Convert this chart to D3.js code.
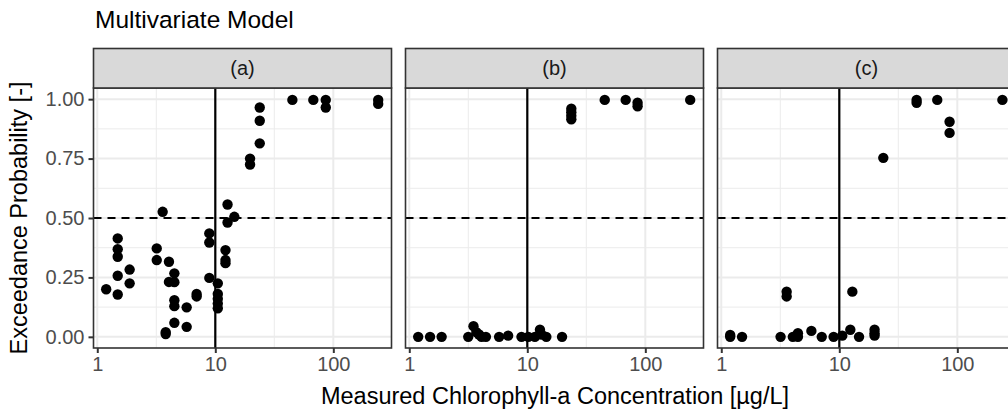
<!DOCTYPE html>
<html><head><meta charset="utf-8">
<script src="https://cdn.jsdelivr.net/npm/d3@7"></script>
<style>body{margin:0;background:#fff}svg{display:block}</style>
</head><body>
<svg id="c" width="1008" height="413"></svg>
<script>
const panels = ["(a)", "(b)", "(c)"];
const xTicks = [1, 10, 100];
const xTickLabels = ["1", "10", "100"];
const yTicks = [0, 0.25, 0.5, 0.75, 1];
const yTickLabels = ["0.00", "0.25", "0.50", "0.75", "1.00"];
const threshold = 10;
const probLine = 0.5;

const xA = [1.19, 1.49,1.49,1.49,1.49,1.49, 1.88,1.88, 3.19,3.19, 3.58, 3.8,3.8, 4.05,4.05, 4.5,4.5,4.5,4.5,4.5, 5.72,5.72, 6.95,6.95, 8.9,8.9,8.9, 10.5,10.5,10.5,10.5,10.5, 12.2,12.2,12.2, 12.7,12.7, 14.5, 19.7,19.7, 23.8,23.8,23.8, 45, 67.7, 86.3,86.3, 240,240];
const yA = [0.20, 0.414,0.369,0.337,0.257,0.178, 0.283,0.225, 0.372,0.323, 0.526, 0.02,0.012, 0.316,0.231, 0.267,0.23,0.154,0.129,0.059, 0.124,0.042, 0.18,0.17, 0.435,0.397,0.248, 0.225,0.18,0.16,0.14,0.12, 0.365,0.323,0.31, 0.557,0.481, 0.505, 0.75,0.725, 0.965,0.909,0.814, 0.997, 0.997, 0.997,0.965, 0.997,0.98];

const xB = [1.19, 1.5, 1.88, 3.16, 3.5, 3.7, 3.9, 4.1, 4.46, 5.77, 6.88, 8.93, 10.2, 11.6, 12.8, 13.2, 14.5, 19.7, 23.6,23.6,23.6,23.6, 45.3, 68.2, 86,86, 240];
const yB = [0, 0, 0, 0, 0.045, 0.02, 0.01, 0, 0, 0, 0.005, 0, 0, 0, 0.03, 0.01, 0, 0, 0.96,0.945,0.93,0.915, 0.997, 0.997, 0.985,0.97, 0.997];

const xC = [1.19,1.19, 1.5, 3.18, 3.58,3.58, 4.04, 4.46,4.46, 5.8, 7.1, 8.95, 10.6, 12.4, 12.9, 14.7, 19.9,19.9,19.9, 23.6, 45.2,45.2, 67.6, 86,86, 241];
const yC = [0,0.008, 0, 0, 0.19,0.17, 0, 0.015,0, 0.025, 0, 0, 0.005, 0.03, 0.19, 0, 0.03,0.015,0.005, 0.753, 0.997,0.985, 0.997, 0.905,0.858, 0.997];

const seriesX = [xA, xB, xC];
const seriesY = [yA, yB, yC];

const svg = d3.select("#c");
const FONT = "'Liberation Sans', Arial, sans-serif";
const pLeft = [93.5, 405.5, 717.5], pW = 298, pTop = 88, pH = 260;
const sTop = 48.5, sH = 39.5;

const x = d3.scaleLog().domain([Math.pow(10,-0.032), Math.pow(10,2.493)]).range([0, pW]);
const y = d3.scaleLinear().domain([-0.047, 1.047]).range([pH, 0]);
const xMinor = [Math.sqrt(10), Math.sqrt(1000)];
const yMinor = [0.125, 0.375, 0.625, 0.875];

svg.append("text").attr("x", 95).attr("y", 28).attr("font-family", FONT).attr("font-size", 24.5)
  .attr("fill", "#000").text("Multivariate Model");

panels.forEach((lab, i) => {
  const g = svg.append("g").attr("transform", `translate(${pLeft[i]},${pTop})`);
  g.append("rect").attr("width", pW).attr("height", pH).attr("fill", "#fff");
  g.selectAll(".mx").data(xMinor).join("line").attr("x1", d=>x(d)).attr("x2", d=>x(d))
    .attr("y1", 0).attr("y2", pH).attr("stroke", "#EBEBEB").attr("stroke-width", 1);
  g.selectAll(".my").data(yMinor).join("line").attr("y1", d=>y(d)).attr("y2", d=>y(d))
    .attr("x1", 0).attr("x2", pW).attr("stroke", "#EBEBEB").attr("stroke-width", 1);
  g.selectAll(".gx").data(xTicks).join("line").attr("x1", d=>x(d)).attr("x2", d=>x(d))
    .attr("y1", 0).attr("y2", pH).attr("stroke", "#EBEBEB").attr("stroke-width", 2);
  g.selectAll(".gy").data(yTicks).join("line").attr("y1", d=>y(d)).attr("y2", d=>y(d))
    .attr("x1", 0).attr("x2", pW).attr("stroke", "#EBEBEB").attr("stroke-width", 2);
  g.append("line").attr("x1", 0).attr("x2", pW).attr("y1", y(probLine)).attr("y2", y(probLine))
    .attr("stroke", "#000").attr("stroke-width", 2).attr("stroke-dasharray", "8,6");
  g.append("line").attr("x1", x(threshold)).attr("x2", x(threshold)).attr("y1", 0).attr("y2", pH)
    .attr("stroke", "#000").attr("stroke-width", 2.2);
  const pts = seriesX[i].map((v, k) => [v, seriesY[i][k]]);
  g.selectAll(".pt").data(pts).join("circle").attr("cx", d=>x(d[0])).attr("cy", d=>y(d[1]))
    .attr("r", 5.2).attr("fill", "#000");
  g.append("rect").attr("width", pW).attr("height", pH).attr("fill", "none")
    .attr("stroke", "#333333").attr("stroke-width", 1.6);
  svg.append("rect").attr("x", pLeft[i]).attr("y", sTop).attr("width", pW).attr("height", sH)
    .attr("fill", "#D9D9D9").attr("stroke", "#333333").attr("stroke-width", 1.6);
  svg.append("text").attr("x", pLeft[i] + pW/2).attr("y", sTop + sH/2).attr("dy", "0.36em")
    .attr("text-anchor", "middle").attr("font-family", FONT).attr("font-size", 20)
    .attr("fill", "#1A1A1A").text(lab);
  const xa = g.append("g").attr("transform", `translate(0,${pH})`)
    .call(d3.axisBottom(x).tickValues(xTicks).tickFormat((d,k)=>xTickLabels[k]).tickSize(5).tickPadding(4));
  xa.select(".domain").remove();
  xa.selectAll(".tick line").attr("stroke", "#333333").attr("stroke-width", 2);
  xa.selectAll(".tick text").attr("font-family", FONT).attr("font-size", 20).attr("fill", "#4D4D4D");
  if (i === 0) {
    const ya = g.append("g").call(d3.axisLeft(y).tickValues(yTicks).tickFormat((d,k)=>yTickLabels[k]).tickSize(5).tickPadding(4));
    ya.select(".domain").remove();
    ya.selectAll(".tick line").attr("stroke", "#333333").attr("stroke-width", 2);
    ya.selectAll(".tick text").attr("font-family", FONT).attr("font-size", 20).attr("fill", "#4D4D4D");
  }
});

svg.append("text").attr("x", 555).attr("y", 404).attr("text-anchor", "middle")
  .attr("font-family", FONT).attr("font-size", 23.5).attr("fill", "#000")
  .text("Measured Chlorophyll-a Concentration [µg/L]");
svg.append("text").attr("transform", `translate(27,${pTop + pH/2}) rotate(-90)`).attr("text-anchor", "middle")
  .attr("font-family", FONT).attr("font-size", 23.5).attr("fill", "#000")
  .text("Exceedance Probability [-]");
</script>
</body></html>
